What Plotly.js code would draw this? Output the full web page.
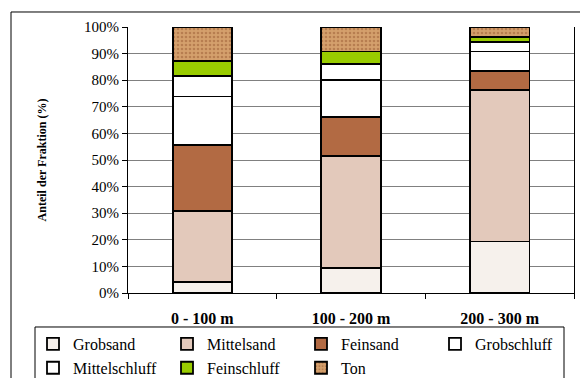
<!DOCTYPE html>
<html>
<head>
<meta charset="utf-8">
<script src="https://cdn.plot.ly/plotly-3.0.1.min.js"></script>
<style>
  html, body { margin: 0; padding: 0; background: #fff; }
  #chart { width: 580px; height: 378px; }
</style>
</head>
<body>
<div id="chart"></div>
<script>
// Profile sections along the transect
const categories = ['0 - 100 m', '100 - 200 m', '200 - 300 m'];

// Share of each grain-size fraction (%) per section
const grobsand      = [4.1, 9.4, 19.4];
const mittelsand    = [26.6, 42.0, 57.0];
const feinsand      = [24.8, 14.7, 7.0];
const grobschluff   = [18.4, 14.1, 7.4];
const mittelschluff = [7.6, 5.9, 3.5];
const feinschluff   = [5.6, 4.7, 1.9];
const ton           = [12.9, 9.2, 3.8];

const yTickVals = [0, 10, 20, 30, 40, 50, 60, 70, 80, 90, 100];
const yTickText = ['0%', '10%', '20%', '30%', '40%', '50%', '60%', '70%', '80%', '90%', '100%'];

const serif = 'Liberation Serif, Times New Roman, serif';

function bar(name, values, color, pattern) {
  const marker = { color: color, line: { color: '#000', width: 1.8 } };
  if (pattern) marker.pattern = pattern;
  return {
    type: 'bar', name: name, x: categories, y: values, marker: marker,
    hoverinfo: 'name+y'
  };
}

const traces = [
  bar('Grobsand', grobsand, '#f6f1ec'),
  bar('Mittelsand', mittelsand, '#e3c9bb'),
  bar('Feinsand', feinsand, '#b26a43'),
  bar('Grobschluff', grobschluff, '#ffffff'),
  bar('Mittelschluff', mittelschluff, '#ffffff'),
  bar('Feinschluff', feinschluff, '#99cc00'),
  bar('Ton', ton, '#d09a65', { shape: '.', fgcolor: '#9a5c34', bgcolor: '#d4a06c', size: 4, solidity: 0.35, fillmode: 'overlay' })
];

const layout = {
  width: 580, height: 378,
  margin: { l: 128, r: 6, t: 27, b: 85, autoexpand: false },
  paper_bgcolor: '#fff', plot_bgcolor: '#fff',
  barmode: 'stack', bargap: 0.6,
  font: { family: serif, size: 15, color: '#000' },
  showlegend: true,
  legend: {
    orientation: 'h', x: -0.213, y: -0.128, xanchor: 'left', yanchor: 'top',
    entrywidth: 89, entrywidthmode: 'pixels',
    font: { family: serif, size: 16, color: '#000' },
    bgcolor: 'rgba(0,0,0,0)', borderwidth: 0, traceorder: 'normal'
  },
  xaxis: {
    type: 'category', tickson: 'boundaries', ticks: 'outside', ticklen: 5,
    tickcolor: '#000', showline: true, linecolor: '#000', linewidth: 1,
    showgrid: false, ticklabelstandoff: 11,
    tickfont: { family: serif, size: 16, color: '#000', weight: 'bold' },
    fixedrange: true
  },
  yaxis: {
    range: [0, 100], tickvals: yTickVals, ticktext: yTickText,
    ticks: 'outside', ticklen: 5, tickcolor: '#000',
    showline: true, linecolor: '#000', linewidth: 1, mirror: true,
    showgrid: true, gridcolor: '#808080', gridwidth: 1, zeroline: false,
    tickfont: { family: serif, size: 15, color: '#000' },
    title: { text: 'Anteil der Fraktion (%)', standoff: 34,
             font: { family: serif, size: 12, color: '#000', weight: 'bold' } },
    fixedrange: true
  },
  shapes: [
    // outer chart frame
    { type: 'rect', xref: 'paper', yref: 'paper', x0: -0.2623, x1: 1.04, y0: -0.37, y1: 1.0564,
      line: { color: '#000', width: 1 }, fillcolor: 'rgba(0,0,0,0)', layer: 'below' },
    // legend frame
    { type: 'rect', xref: 'paper', yref: 'paper', x0: -0.2085, x1: 0.9776, y0: -0.37, y1: -0.1278,
      line: { color: '#000', width: 1 }, fillcolor: 'rgba(0,0,0,0)', layer: 'below' }
  ]
};

Plotly.newPlot('chart', traces, layout, { displayModeBar: false, staticPlot: true });
</script>
</body>
</html>
